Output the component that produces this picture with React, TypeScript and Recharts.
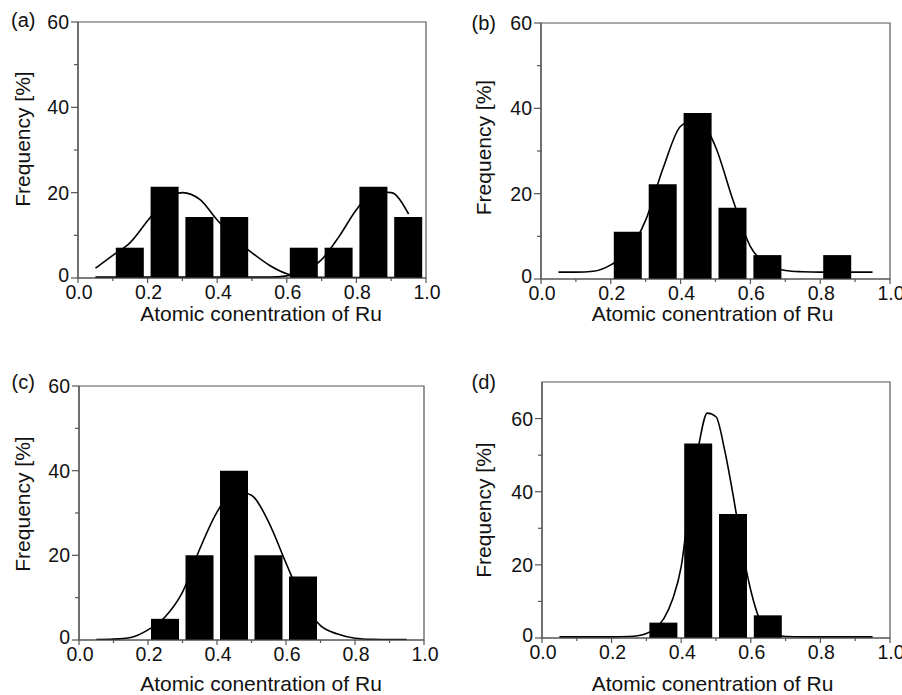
import React from "react";
import { Bar, ComposedChart, Label, Line, ReferenceArea, XAxis, YAxis } from "recharts";

const FONT = "'Liberation Sans', Arial, Helvetica, sans-serif";
const FRAME = "#555555";
const INK = "#111111";

// histogram bins (centres) and the frequency of each bin
const binCenters = [0.15, 0.25, 0.35, 0.45, 0.55, 0.65, 0.75, 0.85, 0.95];
const freqA = [7.1, 21.4, 14.3, 14.3, 0, 7.1, 7.1, 21.4, 14.3];
const freqB = [0, 11.1, 22.2, 38.9, 16.7, 5.6, 0, 5.6, 0];
const freqC = [0, 5, 20, 40, 20, 15, 0, 0, 0];
const freqD = [0, 0, 4.2, 53.2, 33.9, 6.2, 0, 0, 0];

// fitted curves
const fitX = [0.05, 0.1, 0.15, 0.2, 0.25, 0.3, 0.35, 0.4, 0.45, 0.5, 0.55, 0.6, 0.65, 0.7, 0.75, 0.8, 0.85, 0.9, 0.95];
const fitA1 = [2.3, 5.3, 8.3, 13.4, 18.2, 20.0, 18.4, 13.6, 9.3, 5.9, 3.0, 1.0, 0.3, 0.15, 0.1, 0.1, 0.1, 0.1, 0.1];
const fitA2 = [0.2, 0.2, 0.2, 0.2, 0.2, 0.2, 0.2, 0.2, 0.2, 0.2, 0.2, 0.5, 1.6, 4.3, 9.7, 16.0, 20.2, 20.0, 15.0];
const fitB = [1.6, 1.6, 1.8, 3.3, 6.5, 13.8, 26.0, 35.8, 37.6, 31.0, 18.5, 7.6, 3.5, 2.0, 1.7, 1.6, 1.6, 1.6, 1.6];
const fitC = [0.1, 0.2, 0.6, 2.4, 5.5, 11.3, 21.5, 30.2, 35.2, 34.2, 27.8, 18.2, 9.0, 3.4, 1.4, 0.4, 0.15, 0.1, 0.1];
const fitXD = [0.05, 0.1, 0.15, 0.2, 0.25, 0.275, 0.3, 0.325, 0.35, 0.375, 0.4, 0.425, 0.45, 0.475, 0.5, 0.525, 0.55, 0.575, 0.6, 0.625, 0.65, 0.675, 0.7, 0.75, 0.8, 0.85, 0.9, 0.95];
const fitD = [0.3, 0.3, 0.3, 0.3, 0.4, 0.6, 1.2, 2.6, 5.3, 10.5, 19.5, 38.0, 52.5, 61.5, 60.5, 51.3, 38.6, 24.5, 13.0, 5.2, 2.0, 0.8, 0.4, 0.3, 0.3, 0.3, 0.3, 0.3];

const xTicks = [0, 0.1, 0.2, 0.3, 0.4, 0.5, 0.6, 0.7, 0.8, 0.9, 1.0];
const yTicks = [0, 10, 20, 30, 40, 50, 60];

const X_TITLE = "Atomic conentration of Ru";
const Y_TITLE = "Frequency [%]";

const binRows = (freq: number[]) => binCenters.map((x, i) => ({ x, freq: freq[i] }));
const fitRows = (xs: number[], ys: number[]) => xs.map((x, i) => ({ x, y: ys[i] }));

// box / plot are page coordinates: [left, top, right, bottom]
const panels = [
  { id: "a", box: [0, 0, 451, 340], plot: [78, 22, 426, 278], yMax: 60, bins: binRows(freqA), fits: [fitRows(fitX, fitA1), fitRows(fitX, fitA2)], xTitle: [261, 321], yTitle: [22.5, 139], tag: [11, 10.3] },
  { id: "b", box: [451, 0, 902, 340], plot: [541, 23, 890, 279], yMax: 60, bins: binRows(freqB), fits: [fitRows(fitX, fitB)], xTitle: [712.5, 321], yTitle: [483.5, 147.5], tag: [471.5, 12.8] },
  { id: "c", box: [0, 340, 451, 695], plot: [79, 386, 424, 640], yMax: 60, bins: binRows(freqC), fits: [fitRows(fitX, fitC)], xTitle: [261, 691], yTitle: [22.5, 504], tag: [11.5, 372.3] },
  { id: "d", box: [451, 340, 902, 695], plot: [542, 382, 890, 638], yMax: 70, bins: binRows(freqD), fits: [fitRows(fitXD, fitD)], xTitle: [712.5, 691], yTitle: [483.5, 510], tag: [471.5, 372.3] },
];

function XTick(props: any) {
  const { x, y, payload } = props;
  const v = Number(payload.value);
  const major = Math.round(v * 10) % 2 === 0;
  return (
    <g>
      <line x1={x} x2={x} y1={y} y2={y + (major ? 5 : 3)} stroke={FRAME} strokeWidth={1.2} />
      {major ? (
        <text x={x + 1} y={y + 21} textAnchor="middle" fontSize={19.5} fontFamily={FONT} fill={INK}>
          {v.toFixed(1)}
        </text>
      ) : null}
    </g>
  );
}

function YTick(props: any) {
  const { x, y, payload } = props;
  const v = Number(payload.value);
  const major = v % 20 === 0;
  return (
    <g>
      <line x1={x - (major ? 7 : 4)} x2={x} y1={y} y2={y} stroke={FRAME} strokeWidth={1.2} />
      {major ? (
        <text x={x - 9} y={v === 0 ? y - 3 : y} dy="0.36em" textAnchor="end" fontSize={19.5} fontFamily={FONT} fill={INK}>
          {v}
        </text>
      ) : null}
    </g>
  );
}

function Panel({ p }: { p: (typeof panels)[number] }) {
  const [bx, by, br, bb] = p.box;
  const [pl, pt, pr, pb] = p.plot;
  const w = br - bx;
  const h = bb - by;
  const yAxisW = 40;
  const xAxisH = 40;
  const margin = { left: pl - bx - yAxisW, top: pt - by, right: br - pr, bottom: bb - pb - xAxisH };
  const xt = [p.xTitle[0] - bx, p.xTitle[1] - by];
  const yt = [p.yTitle[0] - bx, p.yTitle[1] - by];
  return (
    <div style={{ position: "absolute", left: bx, top: by, width: w, height: h }}>
      <ComposedChart width={w} height={h} data={p.bins} margin={margin}>
        <XAxis
          dataKey="x"
          type="number"
          domain={[0, 1]}
          ticks={xTicks}
          interval={0}
          height={xAxisH}
          tickSize={0}
          tickMargin={0}
          tickLine={false}
          tick={(t: any) => <XTick {...t} />}
          axisLine={{ stroke: FRAME, strokeWidth: 1.2 }}
          allowDataOverflow
        >
          <Label
            content={() => (
              <text x={xt[0]} y={xt[1]} textAnchor="middle" fontSize={21} fontFamily={FONT} fill={INK}>
                {X_TITLE}
              </text>
            )}
          />
        </XAxis>
        <XAxis xAxisId="fit" dataKey="x" type="number" domain={[0, 1]} hide allowDataOverflow />
        <YAxis
          type="number"
          domain={[0, p.yMax]}
          ticks={yTicks}
          interval={0}
          width={yAxisW}
          tickSize={0}
          tickMargin={0}
          tickLine={false}
          tick={(t: any) => <YTick {...t} />}
          axisLine={{ stroke: FRAME, strokeWidth: 1.2 }}
          allowDataOverflow
        >
          <Label
            content={() => (
              <text
                x={yt[0]}
                y={yt[1]}
                textAnchor="middle"
                dominantBaseline="central"
                transform={`rotate(-90 ${yt[0]} ${yt[1]})`}
                fontSize={21}
                fontFamily={FONT}
                fill={INK}
              >
                {Y_TITLE}
              </text>
            )}
          />
        </YAxis>
        {p.fits.map((rows, k) => (
          <Line
            key={k}
            xAxisId="fit"
            data={rows}
            dataKey="y"
            type="monotone"
            stroke="#000"
            strokeWidth={1.6}
            dot={false}
            zIndex={250}
            isAnimationActive={false}
          />
        ))}
        <Bar dataKey="freq" fill="#000" barSize={28} isAnimationActive={false} />
        <ReferenceArea x1={0} x2={1} y1={0} y2={p.yMax} fill="none" stroke={FRAME} strokeWidth={1.2} ifOverflow="visible" />
      </ComposedChart>
      <div
        style={{
          position: "absolute",
          left: p.tag[0] - bx,
          top: p.tag[1] - by,
          fontFamily: FONT,
          fontSize: 20,
          lineHeight: "20px",
          color: INK,
        }}
      >
        ({p.id})
      </div>
    </div>
  );
}

export default function App() {
  return (
    <div style={{ position: "absolute", left: 0, top: 0, width: 902, height: 695, background: "#fff" }}>
      {panels.map((p) => (
        <Panel key={p.id} p={p} />
      ))}
    </div>
  );
}
